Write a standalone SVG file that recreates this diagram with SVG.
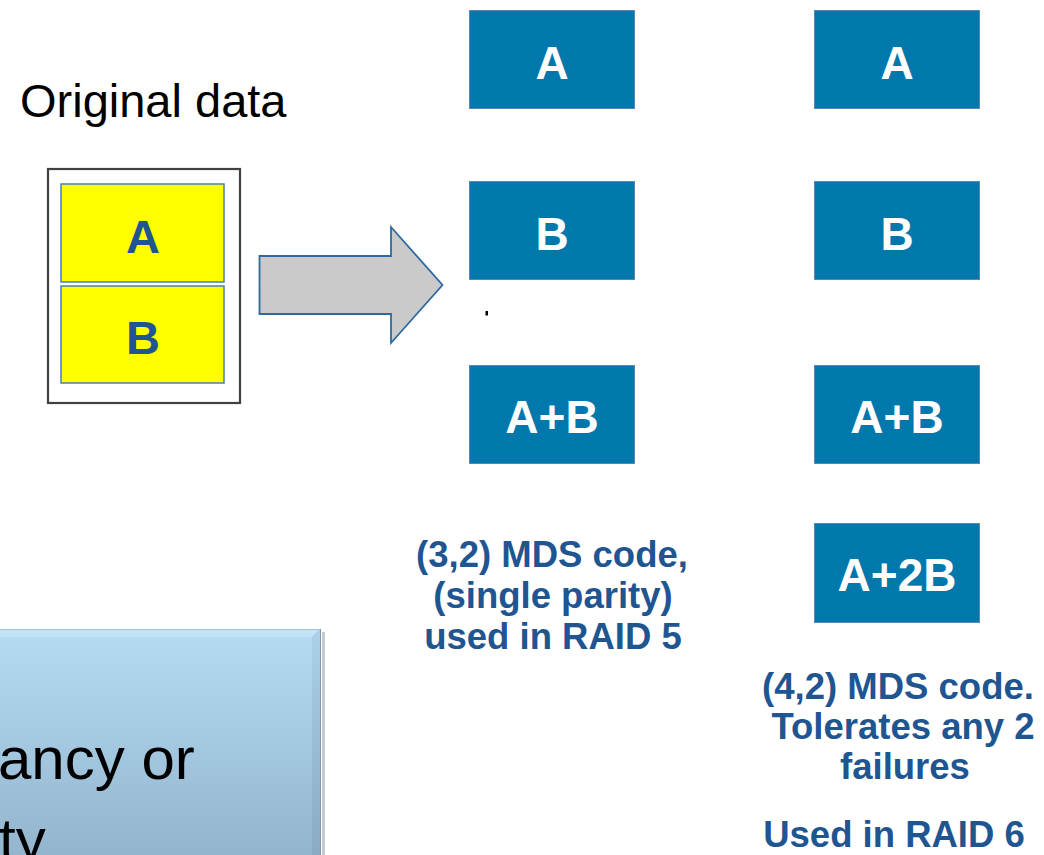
<svg xmlns="http://www.w3.org/2000/svg" width="1044" height="855" viewBox="0 0 1044 855">
  <style>
    .chip { fill: #0078AB; stroke: #5b87b8; stroke-width: 1; }
    .chip-txt { font-family: "Liberation Sans", Arial, sans-serif; font-weight: bold; font-size: 46px; fill: #ffffff; text-anchor: middle; }
    .data { fill: #ffff00; stroke: #4a7ebb; stroke-width: 1.5; }
    .data-txt { font-family: "Liberation Sans", Arial, sans-serif; font-weight: bold; font-size: 47px; fill: #1f5591; text-anchor: middle; }
    .note { font-family: "Liberation Sans", Arial, sans-serif; font-weight: bold; font-size: 36.5px; fill: #1f5591; text-anchor: middle; }
    .plain { font-family: "Liberation Sans", Arial, sans-serif; fill: #000000; }
  </style>
  <defs>
    <linearGradient id="panelFill" x1="0" y1="0" x2="0" y2="1">
      <stop offset="0" stop-color="#b5dcf3"/>
      <stop offset="1" stop-color="#93b5cd"/>
    </linearGradient>
    <linearGradient id="rightBevel" x1="0" y1="0" x2="0" y2="1">
      <stop offset="0" stop-color="#abd0e7"/>
      <stop offset="1" stop-color="#8aabc3"/>
    </linearGradient>
  </defs>
  <rect x="0" y="0" width="1044" height="855" fill="#ffffff"/>

  <!-- caption over the source block -->
  <text class="plain" x="20" y="117" font-size="47">Original data</text>

  <!-- source block holding A and B -->
  <g id="original">
    <rect x="48" y="169" width="192" height="234" fill="#ffffff" stroke="#404040" stroke-width="2.2"/>
    <g id="orig-a">
      <rect class="data" x="61" y="184" width="163" height="98"/>
      <text class="data-txt" x="143" y="253">A</text>
    </g>
    <g id="orig-b">
      <rect class="data" x="61" y="286" width="163" height="97"/>
      <text class="data-txt" x="143" y="354">B</text>
    </g>
  </g>

  <!-- block arrow -->
  <g id="connectors">
    <polygon points="259.5,256 391,256 391,227 442.5,285 391,343 391,314 259.5,314" fill="#cacaca" stroke="#2e69a3" stroke-width="1.8" stroke-linejoin="miter"/>
  </g>

  <!-- (3,2) code column -->
  <g id="c1-a">
    <rect class="chip" x="469.5" y="10.5" width="165" height="98"/>
    <text class="chip-txt" x="552" y="79">A</text>
  </g>
  <g id="c1-b">
    <rect class="chip" x="469.5" y="181.5" width="165" height="98"/>
    <text class="chip-txt" x="552" y="250">B</text>
  </g>
  <rect x="485.5" y="311" width="2.5" height="4.5" fill="#000000"/>
  <g id="c1-ab">
    <rect class="chip" x="469.5" y="365.5" width="165" height="98"/>
    <text class="chip-txt" x="552" y="433">A+B</text>
  </g>
  <g id="c1-note">
    <text class="note" x="552" y="567">(3,2) MDS code,</text>
    <text class="note" x="553" y="608">(single parity)</text>
    <text class="note" x="553" y="649">used in RAID 5</text>
  </g>

  <!-- (4,2) code column -->
  <g id="c2-a">
    <rect class="chip" x="814.5" y="10.5" width="165" height="98"/>
    <text class="chip-txt" x="897" y="79">A</text>
  </g>
  <g id="c2-b">
    <rect class="chip" x="814.5" y="181.5" width="165" height="98"/>
    <text class="chip-txt" x="897" y="250">B</text>
  </g>
  <g id="c2-ab">
    <rect class="chip" x="814.5" y="365.5" width="165" height="98"/>
    <text class="chip-txt" x="897" y="433">A+B</text>
  </g>
  <g id="c2-a2b">
    <rect class="chip" x="814.5" y="523.5" width="165" height="99"/>
    <text class="chip-txt" x="897" y="591">A+2B</text>
  </g>
  <g id="c2-note">
    <text class="note" x="898" y="699">(4,2) MDS code.</text>
    <text class="note" x="903" y="739">Tolerates any 2</text>
    <text class="note" x="905" y="779">failures</text>
    <text class="note" x="894" y="847">Used in RAID 6</text>
  </g>

  <!-- bevelled panel, lower left -->
  <g id="panel">
    <rect x="322" y="632" width="3" height="223" fill="#9aa9b5" opacity="0.6"/>
    <rect x="0" y="629" width="320" height="226" fill="url(#panelFill)"/>
    <polygon points="0,629 320,629 312,637 0,637" fill="#c2e2f5"/>
    <polygon points="320,629 320,855 312,855 312,637" fill="url(#rightBevel)"/>
    <line x1="0" y1="629.5" x2="320" y2="629.5" stroke="#9cc2dc" stroke-width="1"/>
    <line x1="320.5" y1="629" x2="320.5" y2="855" stroke="#7e97ab" stroke-width="1"/>
    <text class="plain" x="-2" y="779" font-size="60">ancy or</text>
    <text class="plain" x="-1" y="860" font-size="60">ty</text>
  </g>
</svg>
